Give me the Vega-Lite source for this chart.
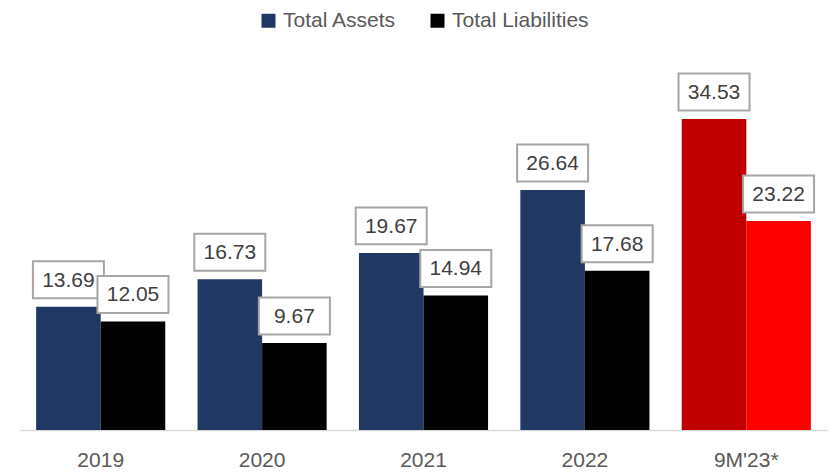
{
  "$schema": "https://vega.github.io/schema/vega-lite/v6.json",
  "width": 807,
  "height": 380,
  "autosize": {"type": "none"},
  "padding": {"left": 20, "top": 50, "right": 6, "bottom": 44},
  "background": "white",
  "config": {
    "view": {"stroke": null},
    "font": "Liberation Sans"
  },
  "data": {
    "values": [
      {"year": "2019", "series": "Total Assets", "value": 13.69},
      {"year": "2020", "series": "Total Assets", "value": 16.73},
      {"year": "2021", "series": "Total Assets", "value": 19.67},
      {"year": "2022", "series": "Total Assets", "value": 26.64},
      {"year": "9M'23*", "series": "Total Assets", "value": 34.53},
      {"year": "2019", "series": "Total Liabilities", "value": 12.05},
      {"year": "2020", "series": "Total Liabilities", "value": 9.67},
      {"year": "2021", "series": "Total Liabilities", "value": 14.94},
      {"year": "2022", "series": "Total Liabilities", "value": 17.68},
      {"year": "9M'23*", "series": "Total Liabilities", "value": 23.22}
    ]
  },
  "encoding": {
    "x": {
      "field": "year", "type": "nominal", "sort": null,
      "scale": {"paddingInner": 0.2, "paddingOuter": 0.1},
      "axis": {
        "title": null, "labelAngle": 0, "ticks": false,
        "domainColor": "#d9d9d9", "domainWidth": 1.5,
        "labelFont": "Liberation Sans", "labelFontSize": 21, "labelColor": "#595959",
        "labelPadding": 19
      }
    },
    "xOffset": {
      "field": "series", "type": "nominal",
      "sort": ["Total Assets", "Total Liabilities"],
      "scale": {"paddingInner": 0, "paddingOuter": 0}
    },
    "y": {
      "field": "value", "type": "quantitative",
      "scale": {"domain": [0, 42.2], "nice": false},
      "axis": null
    }
  },
  "layer": [
    {
      "mark": {"type": "bar"},
      "encoding": {
        "color": {
          "field": "series", "type": "nominal",
          "scale": {"domain": ["Total Assets", "Total Liabilities"], "range": ["#1f3864", "#000000"]},
          "condition": [
            {"test": "datum.year == \"9M'23*\" && datum.series == 'Total Assets'", "value": "#c00000"},
            {"test": "datum.year == \"9M'23*\" && datum.series == 'Total Liabilities'", "value": "#ff0000"}
          ],
          "legend": {
            "title": null, "orient": "none", "direction": "horizontal",
            "legendX": 238, "legendY": -40, "padding": 0,
            "symbolType": "square", "symbolSize": 196, "symbolStrokeWidth": 0,
            "labelFont": "Liberation Sans", "labelFontSize": 21, "labelColor": "#595959",
            "labelOffset": 4, "columnPadding": 30
          }
        }
      }
    },
    {
      "mark": {
        "type": "point",
        "shape": "M-1,-0.521H1V0.521H-1Z",
        "size": 5041, "filled": false, "fill": "white", "fillOpacity": 1,
        "stroke": "#a6a6a6", "strokeWidth": 2, "opacity": 1,
        "yOffset": -27
      }
    },
    {
      "mark": {
        "type": "text",
        "font": "Liberation Sans", "fontSize": 21, "color": "#404040",
        "baseline": "middle", "align": "center", "yOffset": -26
      },
      "encoding": {
        "text": {"field": "value", "type": "quantitative", "format": ".2f"}
      }
    }
  ]
}
